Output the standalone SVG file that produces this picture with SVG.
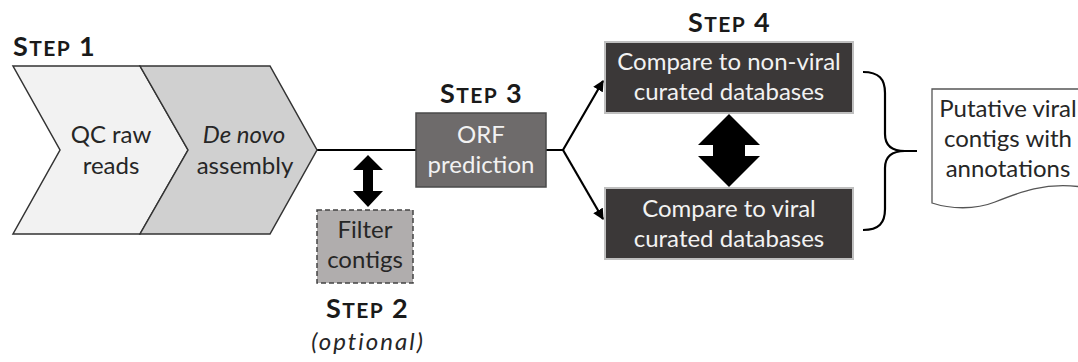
<svg xmlns="http://www.w3.org/2000/svg" width="1078" height="362" viewBox="0 0 1078 362">
  <style>
    text { font-family: Lato, "Liberation Sans", sans-serif; }
    .step { font-weight: bold; fill: #1a1a1a; letter-spacing: 1.4px; }
    .big { font-size: 27px; }
    .sc { font-size: 21px; }
    .lbl { font-size: 24px; text-anchor: middle; fill: #262626; }
    .lt { fill: #f2f2f2; }
    .chev { stroke: #333; stroke-width: 1.5; stroke-linejoin: miter; }
    .conn { fill: none; stroke: #000; stroke-width: 2.2; }
    .dark { fill: #3b3838; stroke: #bfbfbf; stroke-width: 2; }
  </style>
  <defs>
    <marker id="head" viewBox="0 0 10 10" refX="9" refY="5" markerWidth="5" markerHeight="5" orient="auto" markerUnits="strokeWidth">
      <path d="M0,0 L10,5 L0,10 Z" fill="#000"/>
    </marker>
  </defs>

  <rect width="1078" height="362" fill="#fff"/>

  <!-- step headings -->
  <text class="step" x="13" y="56"><tspan class="big">S</tspan><tspan class="sc">TEP</tspan><tspan class="big"> 1</tspan></text>
  <text class="step" x="440" y="103"><tspan class="big">S</tspan><tspan class="sc">TEP</tspan><tspan class="big"> 3</tspan></text>
  <text class="step" x="688" y="32"><tspan class="big">S</tspan><tspan class="sc">TEP</tspan><tspan class="big"> 4</tspan></text>
  <text class="step" x="326" y="318"><tspan class="big">S</tspan><tspan class="sc">TEP</tspan><tspan class="big"> 2</tspan></text>
  <text class="lbl" x="368" y="350" font-size="23" font-style="italic" letter-spacing="2">(optional)</text>

  <!-- connectors -->
  <g id="connectors">
    <path class="conn" d="M317,150 H416"/>
    <path class="conn" d="M546,150 H563 L603,81" marker-end="url(#head)"/>
    <path class="conn" d="M563,150 L603,219" marker-end="url(#head)"/>
    <!-- two-way arrow to the optional filter -->
    <path d="M368,155 L383,170 L373,170 L373,191 L383,191 L368,207 L353,191 L363,191 L363,170 L353,170 Z" fill="#000"/>
    <!-- two-way arrow between the database comparisons -->
    <path d="M729,114 L760,145 L745,145 L745,156 L760,156 L729,187 L698,156 L713,156 L713,145 L698,145 Z" fill="#000"/>
    <!-- brace gathering both comparisons -->
    <path class="conn" d="M863,72 C879,72 885,79 885,93 V134 C885,146 892,151 905,151 H917 M905,151 C892,151 885,156 885,168 V209 C885,223 879,230 863,230"/>
  </g>

  <g id="qc-raw-reads">
    <polygon class="chev" points="13,66 140,66 188,150 140,234 13,234 60,150" fill="#f2f2f2"/>
    <text class="lbl" x="111" y="143">QC raw</text>
    <text class="lbl" x="111" y="174">reads</text>
  </g>

  <g id="de-novo-assembly">
    <polygon class="chev" points="140,66 270,66 317,150 270,234 140,234 188,150" fill="#d0d0d0"/>
    <text class="lbl" x="244" y="143" font-style="italic">De novo</text>
    <text class="lbl" x="245" y="174">assembly</text>
  </g>

  <g id="filter-contigs">
    <rect x="317" y="210" width="96" height="73" fill="#b0adad" stroke="#444" stroke-width="1.5" stroke-dasharray="5,3"/>
    <text class="lbl" x="365" y="238">Filter</text>
    <text class="lbl" x="365" y="268">contigs</text>
  </g>

  <g id="orf-prediction">
    <rect x="416" y="113" width="130" height="74" fill="#6e6b6b" stroke="#4a4a4a" stroke-width="1.5"/>
    <text class="lbl lt" x="481" y="143">ORF</text>
    <text class="lbl lt" x="481" y="173">prediction</text>
  </g>

  <g id="compare-non-viral">
    <rect class="dark" x="605" y="42" width="248" height="71"/>
    <text class="lbl lt" x="729" y="70">Compare to non-viral</text>
    <text class="lbl lt" x="729" y="100">curated databases</text>
  </g>

  <g id="compare-viral">
    <rect class="dark" x="605" y="188" width="248" height="71"/>
    <text class="lbl lt" x="729" y="217">Compare to viral</text>
    <text class="lbl lt" x="729" y="247">curated databases</text>
  </g>

  <g id="putative-viral-contigs">
    <path d="M932,89 H1082 V187 C1045,182 1020,192 995,202 C975,210 950,209 932,203 Z" fill="#fff" stroke="#555" stroke-width="1.3"/>
    <text class="lbl" x="1008" y="117">Putative viral</text>
    <text class="lbl" x="1008" y="147">contigs with</text>
    <text class="lbl" x="1008" y="177">annotations</text>
  </g>
</svg>
